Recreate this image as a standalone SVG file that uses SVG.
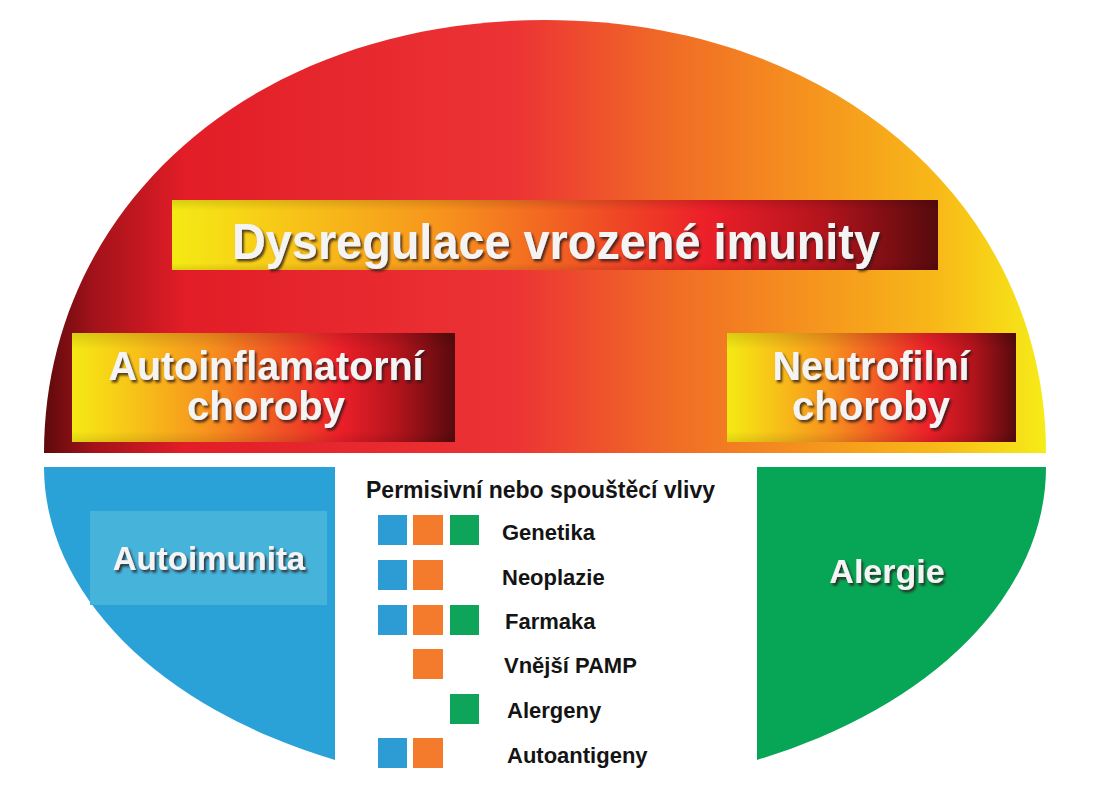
<svg xmlns="http://www.w3.org/2000/svg" width="1094" height="800" viewBox="0 0 1094 800">
<defs>
<linearGradient id="domeGrad" x1="44" y1="0" x2="1046" y2="0" gradientUnits="userSpaceOnUse">
<stop offset="0" stop-color="#5e0a0c"/>
<stop offset="0.05" stop-color="#a3121a"/>
<stop offset="0.14" stop-color="#e21d27"/>
<stop offset="0.47" stop-color="#ec3335"/>
<stop offset="0.62" stop-color="#f06a26"/>
<stop offset="0.76" stop-color="#f5921e"/>
<stop offset="0.89" stop-color="#f8b818"/>
<stop offset="1" stop-color="#f6ec18"/>
</linearGradient>
<linearGradient id="boxGrad" x1="0" y1="0" x2="1" y2="0">
<stop offset="0" stop-color="#f4ea14"/>
<stop offset="0.08" stop-color="#f7d716"/>
<stop offset="0.35" stop-color="#f7941d"/>
<stop offset="0.7" stop-color="#ec1f29"/>
<stop offset="0.85" stop-color="#b3141c"/>
<stop offset="1" stop-color="#560a0d"/>
</linearGradient>
<linearGradient id="boxShade" x1="0" y1="0" x2="0" y2="1">
<stop offset="0" stop-color="#000" stop-opacity="0.12"/>
<stop offset="0.15" stop-color="#000" stop-opacity="0"/>
<stop offset="0.9" stop-color="#000" stop-opacity="0"/>
<stop offset="1" stop-color="#000" stop-opacity="0.1"/>
</linearGradient>
<filter id="shadow" x="-10%" y="-20%" width="120%" height="150%">
<feDropShadow dx="2" dy="2.5" stdDeviation="1.2" flood-color="#2a1a1a" flood-opacity="0.8"/>
</filter>
</defs>
<style>
.lbl { font-family: "Liberation Sans", Arial, sans-serif; font-weight: bold; fill: #f4f4f4; text-anchor: middle; filter: url(#shadow); }
.leg { font-family: "Liberation Sans", Arial, sans-serif; font-weight: bold; font-size: 22px; fill: #141414; }
.sq-b { fill: #2e9cd4; }
.sq-o { fill: #f47b2b; }
.sq-g { fill: #0ea55b; }
</style>
<rect width="1094" height="800" fill="#ffffff"/>

<g id="dome">
<path d="M44,453 C44,210 250,20 545,20 C840,20 1046,210 1046,453 Z" fill="url(#domeGrad)"/>
</g>

<g id="title">
<rect x="172" y="200" width="766" height="70" fill="url(#boxGrad)"/>
<rect x="172" y="200" width="766" height="70" fill="url(#boxShade)"/>
<text class="lbl" x="556" y="259" font-size="50" textLength="648" lengthAdjust="spacingAndGlyphs">Dysregulace vrozené imunity</text>
</g>

<g id="autoinflamatorni">
<rect x="72" y="333" width="383" height="109" fill="url(#boxGrad)"/>
<rect x="72" y="333" width="383" height="109" fill="url(#boxShade)"/>
<text class="lbl" x="266" y="380" font-size="40" textLength="315" lengthAdjust="spacingAndGlyphs">Autoinflamatorní</text>
<text class="lbl" x="266" y="420" font-size="40">choroby</text>
</g>

<g id="neutrofilni">
<rect x="727" y="333" width="289" height="109" fill="url(#boxGrad)"/>
<rect x="727" y="333" width="289" height="109" fill="url(#boxShade)"/>
<text class="lbl" x="871" y="380" font-size="40" textLength="197" lengthAdjust="spacingAndGlyphs">Neutrofilní</text>
<text class="lbl" x="871" y="420" font-size="40">choroby</text>
</g>

<g id="autoimunita">
<path d="M44,467 H335 V760 A501,323 0 0 1 44,467 Z" fill="#2aa2d8"/>
<rect x="90" y="511" width="237" height="94" fill="#45b3da"/>
<text class="lbl" x="209" y="570" font-size="33">Autoimunita</text>
</g>

<g id="alergie">
<path d="M757,467 H1046 A501,323 0 0 1 757,760 Z" fill="#07a656"/>
<text class="lbl" x="887" y="583" font-size="34">Alergie</text>
</g>

<g id="legend">
<text class="leg" x="366" y="498" style="font-size:23px">Permisivní nebo spouštěcí vlivy</text>
<rect class="sq-b" x="378" y="515" width="29" height="30"/>
<rect class="sq-o" x="413" y="515" width="30" height="30"/>
<rect class="sq-g" x="450" y="515" width="29" height="30"/>
<text class="leg" x="502" y="540">Genetika</text>
<rect class="sq-b" x="378" y="560" width="29" height="30"/>
<rect class="sq-o" x="413" y="560" width="30" height="30"/>
<text class="leg" x="502" y="585">Neoplazie</text>
<rect class="sq-b" x="378" y="605" width="29" height="30"/>
<rect class="sq-o" x="413" y="605" width="30" height="30"/>
<rect class="sq-g" x="450" y="605" width="29" height="30"/>
<text class="leg" x="505" y="629">Farmaka</text>
<rect class="sq-o" x="413" y="649" width="30" height="30"/>
<text class="leg" x="504" y="673">Vnější PAMP</text>
<rect class="sq-g" x="450" y="694" width="29" height="30"/>
<text class="leg" x="507" y="718">Alergeny</text>
<rect class="sq-b" x="378" y="738" width="29" height="30"/>
<rect class="sq-o" x="413" y="738" width="30" height="30"/>
<text class="leg" x="507" y="763">Autoantigeny</text>
</g>
</svg>
